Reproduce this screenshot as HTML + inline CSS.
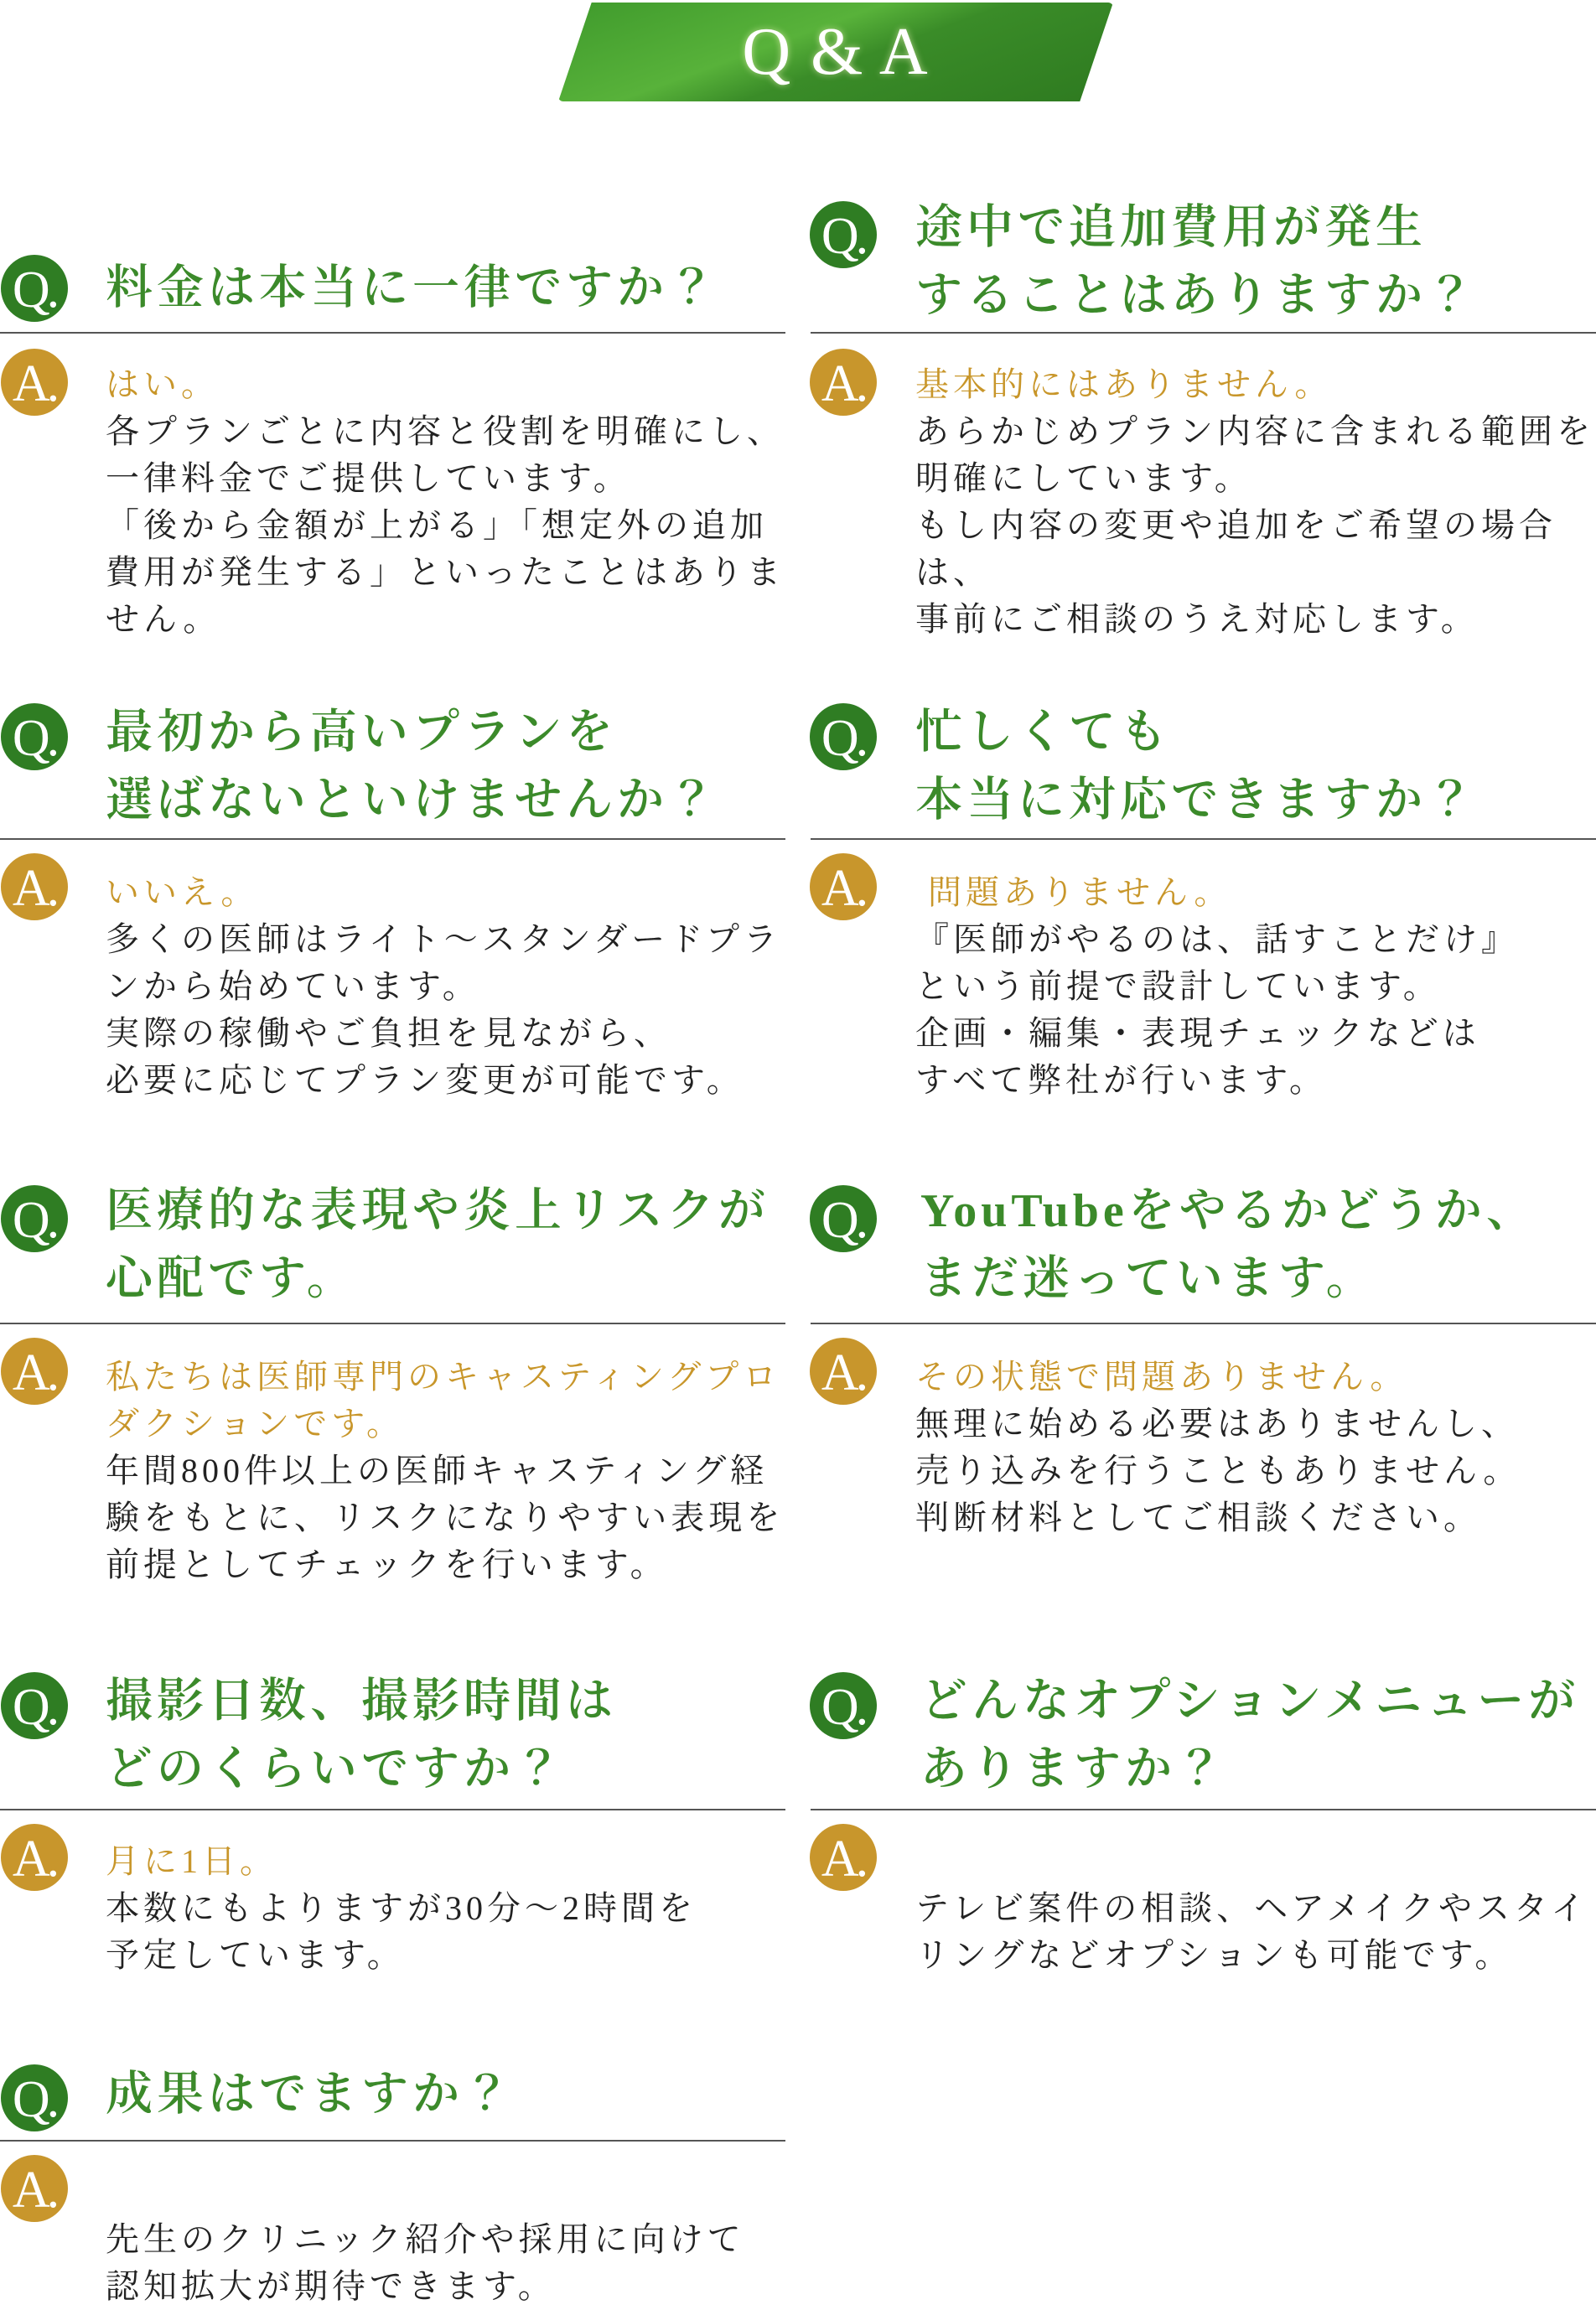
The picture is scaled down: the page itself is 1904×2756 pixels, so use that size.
<!DOCTYPE html>
<html><head><meta charset="utf-8"><style>
body{margin:0;width:1904px;height:2698px;background:#fff;position:relative;overflow:hidden;font-family:"Liberation Serif","Noto Serif CJK JP","Noto Serif CJK SC",serif}
.ban{position:absolute;left:666px;top:3px;width:662px;height:118px;clip-path:polygon(6% 0,100% 0,94% 100%,0 100%);background:linear-gradient(160deg,#3f9a2c 0%,#58b23a 40%,#3a8c28 55%,#2e7a20 100%);border-radius:6px}
.bt{position:absolute;left:666px;top:3px;width:662px;height:118px;line-height:118px;text-align:center;color:#fff;font-size:80px;letter-spacing:2px;text-shadow:0 0 8px rgba(255,255,200,.6)}
.c{position:absolute;width:80px;height:80px;border-radius:50%;color:#fff;font-size:62px;line-height:84px;text-align:center;font-family:"Liberation Serif",serif;letter-spacing:-4px}
.g{background:#2f7d23}.y{background:#c8962c}
.q{position:absolute;color:#3b8a2a;font-size:56px;line-height:81px;letter-spacing:5px;white-space:nowrap;font-weight:600}
.a{position:absolute;color:#222;font-size:40px;line-height:56px;letter-spacing:5px;white-space:nowrap}
.a b{color:#c8962a;font-weight:normal}
.l{position:absolute;height:2px;background:#555}
</style></head><body>
<div class="ban"></div><div class="bt">Q &amp; A</div>

<div class="c g" style="left:1px;top:304px">Q.</div>
<div class="q" style="left:126px;top:304px">料金は本当に一律ですか？</div>
<div class="l" style="left:0;width:937px;top:396px"></div>
<div class="c y" style="left:1px;top:416px">A.</div>
<div class="a" style="left:126px;top:431px"><b>はい。</b><br>各プランごとに内容と役割を明確にし、<br>一律料金でご提供しています。<br>「後から金額が上がる」「想定外の追加<br>費用が発生する」といったことはありま<br>せん。</div>

<div class="c g" style="left:966px;top:240px">Q.</div>
<div class="q" style="left:1092px;top:232px">途中で追加費用が発生<br>することはありますか？</div>
<div class="l" style="left:967px;width:937px;top:396px"></div>
<div class="c y" style="left:966px;top:416px">A.</div>
<div class="a" style="left:1092px;top:431px"><b>基本的にはありません。</b><br>あらかじめプラン内容に含まれる範囲を<br>明確にしています。<br>もし内容の変更や追加をご希望の場合<br>は、<br>事前にご相談のうえ対応します。</div>

<div class="c g" style="left:1px;top:839px">Q.</div>
<div class="q" style="left:126px;top:834px">最初から高いプランを<br>選ばないといけませんか？</div>
<div class="l" style="left:0;width:937px;top:1000px"></div>
<div class="c y" style="left:1px;top:1018px">A.</div>
<div class="a" style="left:126px;top:1037px"><b>いいえ。</b><br>多くの医師はライト〜スタンダードプラ<br>ンから始めています。<br>実際の稼働やご負担を見ながら、<br>必要に応じてプラン変更が可能です。</div>

<div class="c g" style="left:966px;top:839px">Q.</div>
<div class="q" style="left:1092px;top:834px">忙しくても<br>本当に対応できますか？</div>
<div class="l" style="left:967px;width:937px;top:1000px"></div>
<div class="c y" style="left:966px;top:1018px">A.</div>
<div class="a" style="left:1092px;top:1037px"><b>&nbsp;問題ありません。</b><br>『医師がやるのは、話すことだけ』<br>という前提で設計しています。<br>企画・編集・表現チェックなどは<br>すべて弊社が行います。</div>

<div class="c g" style="left:1px;top:1414px">Q.</div>
<div class="q" style="left:126px;top:1405px">医療的な表現や炎上リスクが<br>心配です。</div>
<div class="l" style="left:0;width:937px;top:1578px"></div>
<div class="c y" style="left:1px;top:1596px">A.</div>
<div class="a" style="left:126px;top:1615px"><b>私たちは医師専門のキャスティングプロ<br>ダクションです。</b><br>年間800件以上の医師キャスティング経<br>験をもとに、リスクになりやすい表現を<br>前提としてチェックを行います。</div>

<div class="c g" style="left:966px;top:1414px">Q.</div>
<div class="q" style="left:1098px;top:1405px">YouTubeをやるかどうか、<br>まだ迷っています。</div>
<div class="l" style="left:967px;width:937px;top:1578px"></div>
<div class="c y" style="left:966px;top:1596px">A.</div>
<div class="a" style="left:1092px;top:1615px"><b>その状態で問題ありません。</b><br>無理に始める必要はありませんし、<br>売り込みを行うこともありません。<br>判断材料としてご相談ください。</div>

<div class="c g" style="left:1px;top:1995px">Q.</div>
<div class="q" style="left:126px;top:1990px">撮影日数、撮影時間は<br>どのくらいですか？</div>
<div class="l" style="left:0;width:937px;top:2158px"></div>
<div class="c y" style="left:1px;top:2176px">A.</div>
<div class="a" style="left:126px;top:2193px"><b>月に1日。</b><br>本数にもよりますが30分〜2時間を<br>予定しています。</div>

<div class="c g" style="left:966px;top:1995px">Q.</div>
<div class="q" style="left:1098px;top:1990px">どんなオプションメニューが<br>ありますか？</div>
<div class="l" style="left:967px;width:937px;top:2158px"></div>
<div class="c y" style="left:966px;top:2176px">A.</div>
<div class="a" style="left:1092px;top:2193px"><br>テレビ案件の相談、ヘアメイクやスタイ<br>リングなどオプションも可能です。</div>

<div class="c g" style="left:1px;top:2463px">Q.</div>
<div class="q" style="left:126px;top:2459px">成果はでますか？</div>
<div class="l" style="left:0;width:937px;top:2553px"></div>
<div class="c y" style="left:1px;top:2571px">A.</div>
<div class="a" style="left:126px;top:2588px"><br>先生のクリニック紹介や採用に向けて<br>認知拡大が期待できます。</div>
</body></html>
